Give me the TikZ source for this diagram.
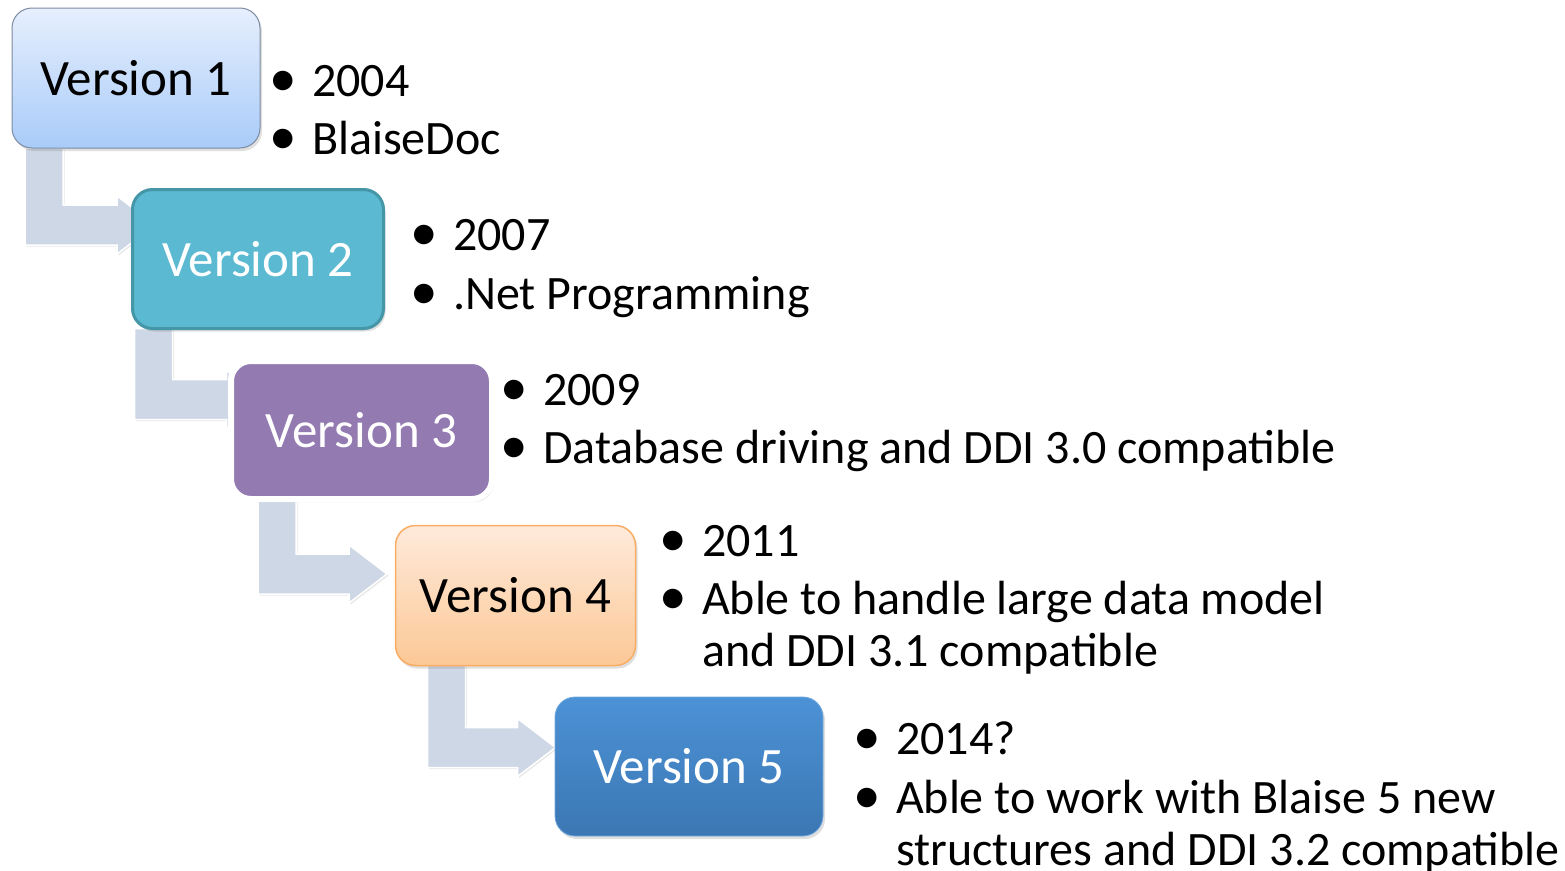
\documentclass[tikz,border=0pt]{standalone}
\usepackage{fontspec}
\setmainfont{Carlito}
\usetikzlibrary{calc,shadows}
\pgfdeclarelayer{bg}
\pgfsetlayers{bg,main}
\definecolor{vonetop}{HTML}{E6EFFD}
\definecolor{vonebot}{HTML}{A9CBF9}
\definecolor{voneline}{HTML}{7D8BA0}
\definecolor{vtwofill}{HTML}{5BB9D1}
\definecolor{vtwoline}{HTML}{4596A6}
\definecolor{vthreefill}{HTML}{937AB1}
\definecolor{vfourtop}{HTML}{FEEADB}
\definecolor{vfourbot}{HTML}{FCC896}
\definecolor{vfourline}{HTML}{F8AD64}
\definecolor{vfivetop}{HTML}{4C92D6}
\definecolor{vfivebot}{HTML}{3B77B3}
\definecolor{arrowc}{HTML}{CDD7E5}
\newcommand\bul{\llap{\scalebox{1.15}{\textbullet}\hspace{15pt}}}
\newcommand\bentarr[3]{%
  \fill[arrowbody] #1 -- ++(38,0) -- ++(0,#2) -- ++(#3,0) -- ++(0,-9)
    -- ++(38,29) -- ++(-38,29) -- ++(0,-9) -- ++(-#3-38,0) -- cycle;}
\begin{document}
\begin{tikzpicture}[x=1pt,y=-1pt,
  vbox/.style={rounded corners=20pt, inner sep=0pt, outer sep=0pt,
    font=\fontsize{51}{60}\selectfont,
    drop shadow={opacity=0.25, shadow xshift=2pt, shadow yshift=-3pt}},
  item/.style={anchor=base west, inner sep=0pt, outer sep=0pt,
    font=\fontsize{48}{58}\selectfont},
  arrowbody/.style={fill=arrowc, draw=white, line width=1.5pt,
    drop shadow={opacity=0.2, shadow xshift=1.5pt, shadow yshift=-1.5pt}}]
\useasboundingbox (0,0) rectangle (1565,870);

% boxes
\node[vbox, minimum width=248pt, minimum height=140pt, draw=voneline, line width=1pt,
  top color=vonetop, bottom color=vonebot, text=black] (v1) at (136,78) {Version 1};
\node[vbox, minimum width=251pt, minimum height=139pt, draw=vtwoline, line width=3pt,
  fill=vtwofill, text=white] (v2) at (258,259) {Version 2};
\node[vbox, minimum width=261pt, minimum height=138pt, draw=white, line width=6pt,
  fill=vthreefill, text=white] (v3) at (361.5,430) {Version 3};
\node[vbox, minimum width=240pt, minimum height=140pt, draw=vfourline, line width=1.5pt,
  top color=vfourtop, bottom color=vfourbot, text=black] (v4) at (515.5,595.5) {Version 4};
\node[vbox, minimum width=268pt, minimum height=139pt, draw=vfivetop!80!white, line width=0.8pt,
  top color=vfivetop, bottom color=vfivebot, text=white] (v5) at (689,766.5) {Version 5};

% bent arrows behind the boxes
\begin{pgfonlayer}{bg}
\bentarr{($(v1.south west)+(13,0)$)}{57}{54}
\bentarr{($(v2.south west)+(2,0)$)}{51}{54}
\bentarr{($(v3.south west)+(27,0)$)}{55}{53}
\bentarr{($(v4.south west)+(32,0)$)}{62}{52}
\end{pgfonlayer}

% bullet texts
\node[item] (t1a) at (312,96) {\bul 2004};
\node[item] (t1b) at (312,154) {\bul BlaiseDoc};
\node[item] (t2a) at (453,250) {\bul 2007};
\node[item] (t2b) at (453,309) {\bul .Net Programming};
\node[item] (t3a) at (543,405) {\bul 2009};
\node[item] (t3b) at (543,463) {\bul Database driving and DDI 3.0 compatible};
\node[item] (t4a) at (702,556) {\bul 2011};
\node[item] (t4b) at (702,614) {\bul Able to handle large data model};
\node[item] (t4c) at (702,666) {and DDI 3.1 compatible};
\node[item] (t5a) at (896,754) {\bul 2014?};
\node[item] (t5b) at (896,813) {\bul Able to work with Blaise 5 new};
\node[item] (t5c) at (896,865) {structures and DDI 3.2 compatible};
\end{tikzpicture}
\end{document}
